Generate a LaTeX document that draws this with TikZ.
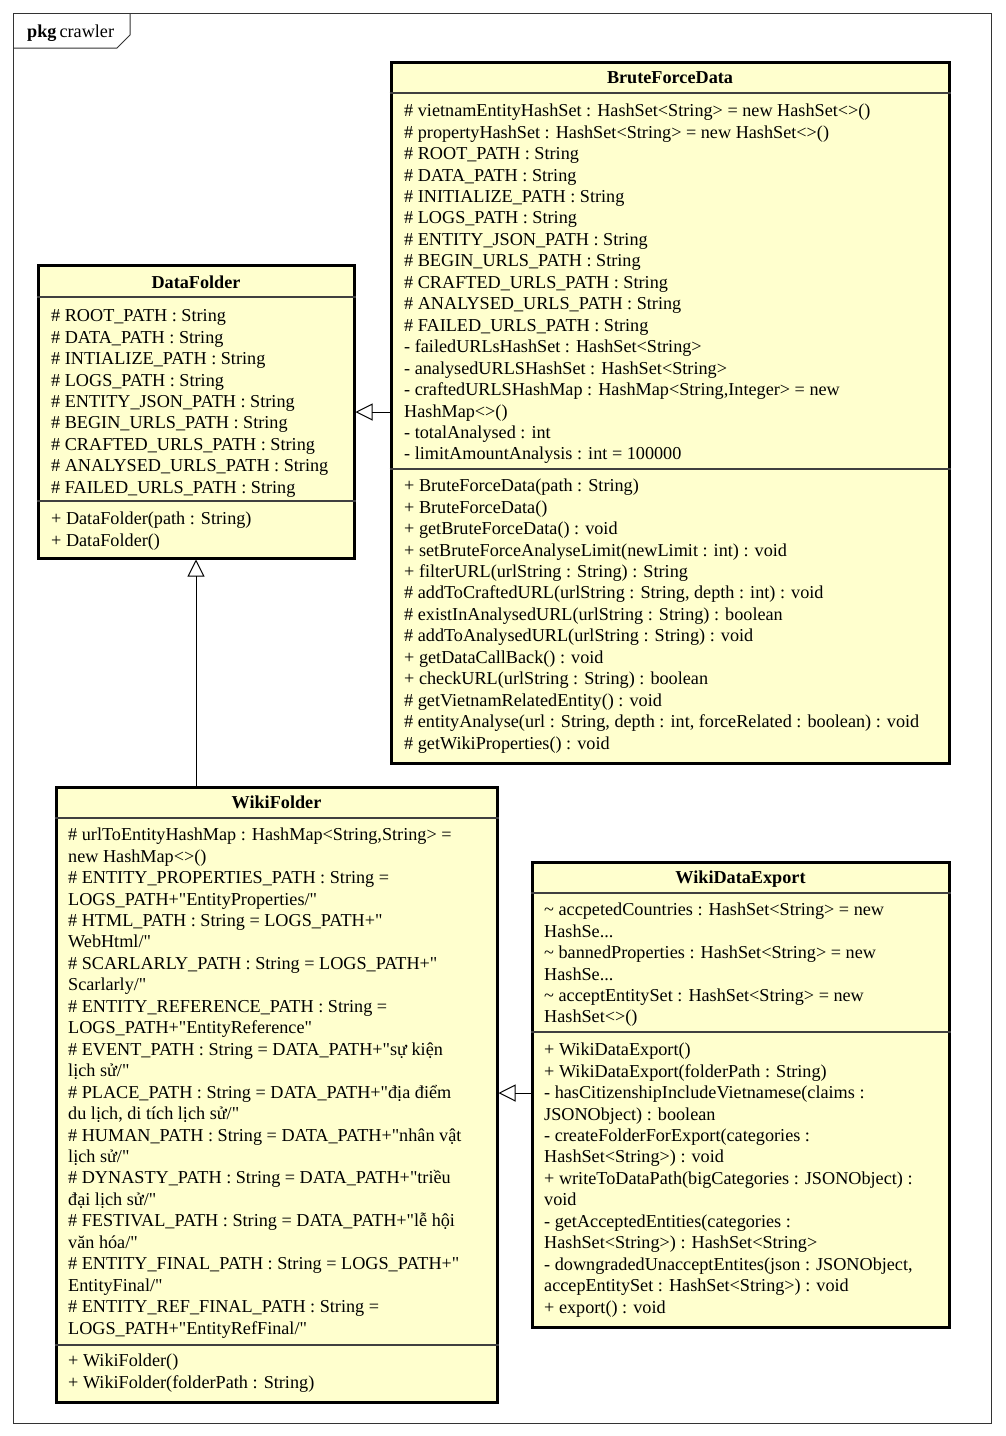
\documentclass[tikz,border=0pt]{standalone}
\usepackage{fontspec}
\setmainfont{Liberation Serif}
\newfontfamily\umlfont{Liberation Serif}
\usetikzlibrary{arrows.meta}
\definecolor{classfill}{RGB}{255,255,206}
\newcommand\fst{\vrule height 15pt depth 0pt width 0pt\relax}
\newcommand\ul{\_}
\newcommand\tightlines{\lineskiplimit=-100pt\relax\lineskip=0pt\relax}
\tikzset{
  classbox/.style={draw=black, line width=3pt, fill=classfill, inner sep=0pt},
  septline/.style={draw=black!75, line width=1.2pt},
  ctitle/.style={anchor=base, inner sep=0pt, font=\umlfont\fontsize{18.2pt}{21.45pt}\selectfont\bfseries},
  ctext/.style={anchor=north west, inner sep=0pt, align=left,
    font=\umlfont\fontsize{18.2pt}{21.45pt}\selectfont\tightlines},
  inh/.style={draw=black, line width=1pt, -{Triangle[open, length=17pt, width=17pt, line width=1pt]}},
  frameline/.style={draw=black!80, line width=1pt}
}
\begin{document}
\begin{tikzpicture}[x=1pt, y=-1pt]
\useasboundingbox (0,0) rectangle (1005,1436);
\fill[white] (0,0) rectangle (1005,1436);
% package frame
\draw[frameline] (13,13) rectangle (991,1423);
\draw[frameline] (13,48) -- (117,48) -- (130,35) -- (130,13);
\node[anchor=base west, inner sep=0pt, font=\umlfont\fontsize{18.2pt}{21pt}\selectfont] (pkg) at (27,37) {\textbf{pkg}\,crawler};

% ---------- BruteForceData ----------
\node[classbox, minimum width=558pt, minimum height=701pt] (bfd) at (670,412.5) {};
\draw[septline] (bfd.west |- 0,93) -- (bfd.east |- 0,93);
\draw[septline] (bfd.west |- 0,469) -- (bfd.east |- 0,469);
\node[ctitle] (bfdt) at (670,83.5) {BruteForceData};
\node[ctext] (bfda) at (404,101.5) {\fst\# vietnamEntityHashSet : HashSet<String> = new HashSet<>()\\
\# propertyHashSet : HashSet<String> = new HashSet<>()\\
\# ROOT\ul PATH : String\\
\# DATA\ul PATH : String\\
\# INITIALIZE\ul PATH : String\\
\# LOGS\ul PATH : String\\
\# ENTITY\ul JSON\ul PATH : String\\
\# BEGIN\ul URLS\ul PATH : String\\
\# CRAFTED\ul URLS\ul PATH : String\\
\# ANALYSED\ul URLS\ul PATH : String\\
\# FAILED\ul URLS\ul PATH : String\\
- failedURLsHashSet : HashSet<String>\\
- analysedURLSHashSet : HashSet<String>\\
- craftedURLSHashMap : HashMap<String,Integer> = new\\
HashMap<>()\\
- totalAnalysed : int\\
- limitAmountAnalysis : int = 100000};
\node[ctext] (bfdm) at (404,476.5) {\fst+ BruteForceData(path : String)\\
+ BruteForceData()\\
+ getBruteForceData() : void\\
+ setBruteForceAnalyseLimit(newLimit : int) : void\\
+ filterURL(urlString : String) : String\\
\# addToCraftedURL(urlString : String, depth : int) : void\\
\# existInAnalysedURL(urlString : String) : boolean\\
\# addToAnalysedURL(urlString : String) : void\\
+ getDataCallBack() : void\\
+ checkURL(urlString : String) : boolean\\
\# getVietnamRelatedEntity() : void\\
\# entityAnalyse(url : String, depth : int, forceRelated : boolean) : void\\
\# getWikiProperties() : void};

% ---------- DataFolder ----------
\node[classbox, minimum width=316pt, minimum height=293pt] (df) at (196,411.5) {};
\draw[septline] (df.west |- 0,297) -- (df.east |- 0,297);
\draw[septline] (df.west |- 0,501) -- (df.east |- 0,501);
\node[ctitle] (dft) at (196,288.5) {DataFolder};
\node[ctext] (dfa) at (51,306.5) {\fst\# ROOT\ul PATH : String\\
\# DATA\ul PATH : String\\
\# INTIALIZE\ul PATH : String\\
\# LOGS\ul PATH : String\\
\# ENTITY\ul JSON\ul PATH : String\\
\# BEGIN\ul URLS\ul PATH : String\\
\# CRAFTED\ul URLS\ul PATH : String\\
\# ANALYSED\ul URLS\ul PATH : String\\
\# FAILED\ul URLS\ul PATH : String};
\node[ctext] (dfm) at (51,509.5) {\fst+ DataFolder(path : String)\\
+ DataFolder()};

% ---------- WikiFolder ----------
\node[classbox, minimum width=441pt, minimum height=615pt] (wf) at (276.5,1094.5) {};
\draw[septline] (wf.west |- 0,818) -- (wf.east |- 0,818);
\draw[septline] (wf.west |- 0,1345) -- (wf.east |- 0,1345);
\node[ctitle] (wft) at (276.5,808.5) {WikiFolder};
\node[ctext] (wfa) at (68,825.5) {\fst\# urlToEntityHashMap : HashMap<String,String> =\\
new HashMap<>()\\
\# ENTITY\ul PROPERTIES\ul PATH : String =\\
LOGS\ul PATH+"EntityProperties/"\\
\# HTML\ul PATH : String = LOGS\ul PATH+"\\
WebHtml/"\\
\# SCARLARLY\ul PATH : String = LOGS\ul PATH+"\\
Scarlarly/"\\
\# ENTITY\ul REFERENCE\ul PATH : String =\\
LOGS\ul PATH+"EntityReference"\\
\# EVENT\ul PATH : String = DATA\ul PATH+"sự kiện\\
lịch sử/"\\
\# PLACE\ul PATH : String = DATA\ul PATH+"địa điểm\\
du lịch, di tích lịch sử/"\\
\# HUMAN\ul PATH : String = DATA\ul PATH+"nhân vật\\
lịch sử/"\\
\# DYNASTY\ul PATH : String = DATA\ul PATH+"triều\\
đại lịch sử/"\\
\# FESTIVAL\ul PATH : String = DATA\ul PATH+"lễ hội\\
văn hóa/"\\
\# ENTITY\ul FINAL\ul PATH : String = LOGS\ul PATH+"\\
EntityFinal/"\\
\# ENTITY\ul REF\ul FINAL\ul PATH : String =\\
LOGS\ul PATH+"EntityRefFinal/"};
\node[ctext] (wfm) at (68,1351.5) {\fst+ WikiFolder()\\
+ WikiFolder(folderPath : String)};

% ---------- WikiDataExport ----------
\node[classbox, minimum width=417pt, minimum height=465pt] (wde) at (740.5,1094.5) {};
\draw[septline] (wde.west |- 0,893) -- (wde.east |- 0,893);
\draw[septline] (wde.west |- 0,1032) -- (wde.east |- 0,1032);
\node[ctitle] (wdet) at (740.5,883.5) {WikiDataExport};
\node[ctext] (wdea) at (544,900.5) {\fst\textasciitilde{} accpetedCountries : HashSet<String> = new\\
HashSe...\\
\textasciitilde{} bannedProperties : HashSet<String> = new\\
HashSe...\\
\textasciitilde{} acceptEntitySet : HashSet<String> = new\\
HashSet<>()};
\node[ctext] (wdem) at (544,1040.5) {\fst+ WikiDataExport()\\
+ WikiDataExport(folderPath : String)\\
- hasCitizenshipIncludeVietnamese(claims :\\
JSONObject) : boolean\\
- createFolderForExport(categories :\\
HashSet<String>) : void\\
+ writeToDataPath(bigCategories : JSONObject) :\\
void\\
- getAcceptedEntities(categories :\\
HashSet<String>) : HashSet<String>\\
- downgradedUnacceptEntites(json : JSONObject,\\
accepEntitySet : HashSet<String>) : void\\
+ export() : void};

% ---------- generalizations ----------
\draw[inh] (bfd.west |- 0,412) -- (df.east |- 0,412);
\draw[inh] (df.south |- wf.north) -- (df.south);
\draw[inh] (wde.west |- 0,1093) -- (wf.east |- 0,1093);
\end{tikzpicture}
\end{document}
